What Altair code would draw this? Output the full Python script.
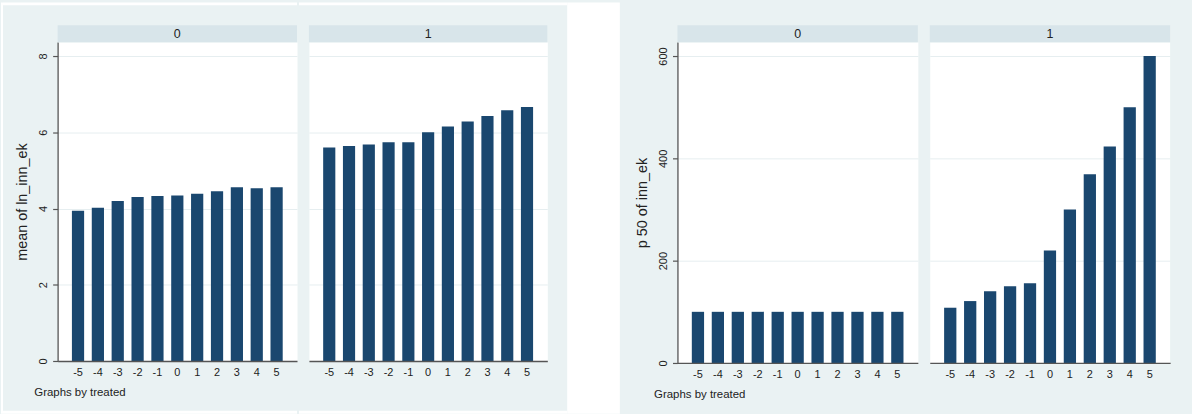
import altair as alt
import pandas as pd

# ---------------- data ----------------
periods = ["-5", "-4", "-3", "-2", "-1", "0", "1", "2", "3", "4", "5"]
mean_ln_inn_ek_t0 = [3.94, 4.02, 4.20, 4.30, 4.33, 4.34, 4.39, 4.45, 4.56, 4.53, 4.56]
mean_ln_inn_ek_t1 = [5.60, 5.64, 5.68, 5.74, 5.74, 6.00, 6.15, 6.28, 6.43, 6.58, 6.66]
p50_inn_ek_t0 = [100, 100, 100, 100, 100, 100, 100, 100, 100, 100, 100]
p50_inn_ek_t1 = [108, 121, 140, 150, 156, 220, 300, 369, 423, 500, 600]
treated_labels = ["0", "1"]
left_ticks = [0, 2, 4, 6, 8]
right_ticks = [0, 200, 400, 600]
left_ytitle = "mean of ln_inn_ek"
right_ytitle = "p 50 of inn_ek"
note_text = "Graphs by treated"

# ---------------- style ----------------
BG = "#EAF2F3"
STRIP = "#D8E5EA"
BAR = "#1A476F"
TXT = "#222222"
AXIS = "#555555"
GRID = "#E6EEF0"
FONT = "Liberation Sans"


def deco(x1, x2, y1, y2, color):
    return alt.Chart(pd.DataFrame({"d": [0]})).mark_rect(color=color).encode(
        x=alt.value(x1), x2=alt.value(x2), y=alt.value(y1), y2=alt.value(y2)
    )


def panel(values, label, W, H, ymax, ticks, first, ytitle, decos):
    df = pd.DataFrame({"t": periods, "v": values})
    xaxis_kw = dict(
        labelAngle=0, ticks=False, tickSize=0, domainColor=AXIS, domainWidth=1.3,
        labelPadding=6, labelFontSize=11, labelColor=TXT, zindex=1,
    )
    if first:
        xaxis_kw.update(
            title=note_text, titleX=-24, titleY=32, titleAlign="left",
            titleBaseline="middle", titleFontSize=11.5, titleFontWeight="normal",
            titleColor=TXT,
        )
    else:
        xaxis_kw.update(title=None)
    xaxis = alt.Axis(**xaxis_kw)
    if first:
        yaxis = alt.Axis(
            values=ticks, title=ytitle, labelAngle=270, tickSize=5, tickColor=AXIS,
            tickWidth=1.2, domainColor=AXIS, domainWidth=1.3, labelPadding=4,
            labelFontSize=11, labelColor=TXT, grid=True, gridColor=GRID, gridWidth=1,
            titleX=-35, titleBaseline="middle", titleFontSize=14.5,
            titleFontWeight="normal", titleColor=TXT,
        )
    else:
        yaxis = alt.Axis(
            values=ticks, title=None, labels=False, ticks=False, domain=False,
            grid=True, gridColor=GRID, gridWidth=1,
        )
    bars = alt.Chart(df).mark_bar(color=BAR).encode(
        x=alt.X("t:O", sort=periods,
                scale=alt.Scale(paddingInner=0.385, paddingOuter=0.72), axis=xaxis),
        y=alt.Y("v:Q", scale=alt.Scale(domain=[0, ymax], nice=False, zero=True),
                axis=yaxis),
    )
    strip_rect = deco(0, W, -17, 0, STRIP)
    strip_text = alt.Chart(pd.DataFrame({"g": [label]})).mark_text(
        fontSize=12.5, color=TXT, font=FONT, baseline="middle", align="center"
    ).encode(x=alt.value(W / 2), y=alt.value(-8.5), text="g:N")
    layers = decos + [strip_rect, strip_text, bars]
    return alt.layer(*layers).properties(width=W, height=H)


# Left graph: panel origin (57, 40)
LW0, LW1, LH = 241, 240, 321
left_p0 = panel(
    mean_ln_inn_ek_t0, treated_labels[0], LW0, LH, 8.365, left_ticks, True, left_ytitle,
    [deco(-57, -55, -40, 374, "white"),
     deco(-55, LW0, -40, -37, "white"),
     deco(-55, LW0, 371, 374, "white")],
)
left_p1 = panel(
    mean_ln_inn_ek_t1, treated_labels[1], LW1, LH, 8.365, left_ticks, False, None,
    [deco(-10, 260, -40, -37, "white"),
     deco(-10, 260, 371, 374, "white"),
     deco(260, 313, -40, 374, "white")],
)

# Right graph: panel origin (677, 36)
RW, RH = 242, 323
right_p0 = panel(
    p50_inn_ek_t0, treated_labels[0], RW, RH, 627.2, right_ticks, True, right_ytitle,
    [deco(-56, -55, -36, 378, BG)],
)
right_p1 = panel(
    p50_inn_ek_t1, treated_labels[1], RW, RH, 627.2, right_ticks, False, None,
    [deco(RW, RW + 21, -36, 378, BG)],
)

left_graph = alt.hconcat(left_p0, left_p1, spacing=0)
right_graph = alt.hconcat(right_p0, right_p1, spacing=10)

chart = alt.hconcat(left_graph, right_graph, spacing=0).properties(
    background=BG, padding=0
).configure_view(
    fill="white", stroke="transparent"
).configure_axis(
    labelFont=FONT, titleFont=FONT
).configure_text(font=FONT)

chart.save("out.html", embed_options={"renderer": "svg", "actions": False})
